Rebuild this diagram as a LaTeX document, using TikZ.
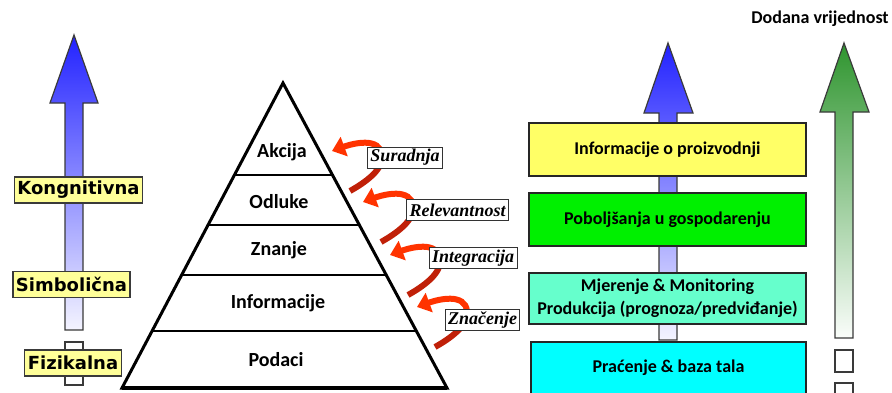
\documentclass[tikz,border=0pt]{standalone}
\usepackage{fontspec}
\setmainfont{Carlito}
\newfontfamily\verdb{DejaVu Sans}
\newfontfamily\timesit{Liberation Serif}
\usetikzlibrary{arrows.meta,calc}
\definecolor{lblyel}{HTML}{FFFF99}
\definecolor{boxyel}{HTML}{FFFF66}
\definecolor{boxgrn}{HTML}{00F000}
\definecolor{boxaqua}{HTML}{66FFCC}
\definecolor{boxcyan}{HTML}{00FFFF}
\definecolor{arrblue}{HTML}{2222FF}
\definecolor{arrbluelight}{HTML}{F4F4FF}
\definecolor{arrgreen}{HTML}{2F952F}
\definecolor{arrgreenlight}{HTML}{FAFDFA}
\definecolor{edgegray}{HTML}{3A3A3A}
\definecolor{reddark}{HTML}{C02008}
\definecolor{redbright}{HTML}{FF3300}
\tikzset{
  lvl/.style={font=\fontsize{20}{24}\selectfont\bfseries, inner sep=0pt},
  sidelbl/.style={draw=edgegray, fill=lblyel, line width=1.2pt, inner xsep=3pt, inner ysep=0pt,
    minimum height=26pt, font=\verdb\fontsize{18}{20}\selectfont\bfseries},
  rbox/.style={draw=black!85, line width=1.5pt, minimum width=277pt, inner sep=0pt, align=center,
    font=\fontsize{18}{23}\selectfont\bfseries},
  itlbl/.style={draw=black!80, fill=white, line width=1pt, inner xsep=3pt, inner ysep=0pt,
    minimum height=21pt, font=\timesit\fontsize{18}{20}\selectfont\bfseries\itshape},
  redtail/.style={draw=reddark, line width=6pt},
  redhead/.style={draw=redbright, line width=6pt, -{Triangle[length=13pt,width=20pt]}},
  smallbox/.style={draw=edgegray, fill=white, line width=1.2pt},
  bigarrow/.style={draw=edgegray, line width=1.2pt}
}
\begin{document}
\begin{tikzpicture}[x=1pt,y=-1pt]
\useasboundingbox (0,0) rectangle (892,392);
\fill[white] (0,0) rectangle (892,392);

% left arrow
\shade[bigarrow, top color=arrblue, bottom color=arrbluelight]
  (65,330) -- (65,103) -- (50,103) -- (74,35) -- (98,103) -- (83,103) -- (83,330) -- cycle;
\draw[smallbox] (65,342) rectangle (83,385);
\node[sidelbl] (kog) at (78.5,190) {Kongnitivna};
\node[sidelbl] (sim) at (71.5,284.5) {Simbolična};
\node[sidelbl] (fiz) at (73,363) {Fizikalna};

% pyramid
\coordinate (apex) at (283,83);
\coordinate (bl) at (122,388);
\coordinate (br) at (447,388);
\foreach \t in {0.3016,0.4656,0.6295,0.8131}
  \draw[line width=1.6pt] ($(apex)!\t!(bl)$) -- ($(apex)!\t!(br)$);
\draw[line width=3pt, line join=miter] (apex) -- (bl) -- (br) -- cycle;
\draw[line width=4pt] (bl) -- (br);
\node[lvl] (akcija) at (282,152) {Akcija};
\node[lvl] (odluke) at (279,202) {Odluke};
\node[lvl] (znanje) at (279,250) {Znanje};
\node[lvl] (inform) at (278,303) {Informacije};
\node[lvl] (podaci) at (276,360) {Podaci};

% red curved arrows
\foreach \n/\hx/\hy in {s/332/151, r/363/202, i/390/255, z/417/307} {
  \coordinate (\n tip) at (\hx,\hy);
  \coordinate (\n tail) at (\hx+18,\hy+40);
  \coordinate (\n mid) at (\hx+50,\hy+4);
  \draw[redtail] (\n tail) .. controls +(16,-9) and +(2,14) .. (\n mid);
  \draw[redhead] (\n mid) .. controls +(-2,-18) and +(22,-8) .. (\n tip);
}
\node[itlbl] (sur) at (405,157.5) {Suradnja};
\node[itlbl] (rel) at (457.5,210) {Relevantnost};
\node[itlbl] (int) at (473,258) {Integracija};
\node[itlbl] (zna) at (482.5,320) {Značenje};

% middle arrow
\shade[bigarrow, top color=arrblue, bottom color=arrbluelight]
  (659,340) -- (659,113) -- (644,113) -- (668,43) -- (693,113) -- (677,113) -- (677,340) -- cycle;

% right boxes
\node[rbox, fill=boxyel, minimum height=53pt] (b1) at (667.5,149.5) {Informacije o proizvodnji};
\node[rbox, fill=boxgrn, minimum height=53pt] (b2) at (667.5,219.5) {Poboljšanja u gospodarenju};
\node[rbox, fill=boxaqua, minimum height=51pt] (b3) at (667.5,298.5) {Mjerenje \& Monitoring\\Produkcija (prognoza/predviđanje)};
\node[rbox, fill=boxcyan, minimum width=275pt, minimum height=52pt] (b4) at (668.5,368) {Praćenje \& baza tala};

% green arrow
\shade[bigarrow, top color=arrgreen, bottom color=arrgreenlight]
  (835,338) -- (835,112) -- (820,112) -- (844,43) -- (869,112) -- (853,112) -- (853,338) -- cycle;
\draw[smallbox] (835,350) rectangle (853,372);
\draw[smallbox] (835,383) rectangle (853,400);
\node[font=\fontsize{18}{20}\selectfont\bfseries, inner sep=0pt] (dod) at (820,19) {Dodana vrijednost};
\end{tikzpicture}
\end{document}
